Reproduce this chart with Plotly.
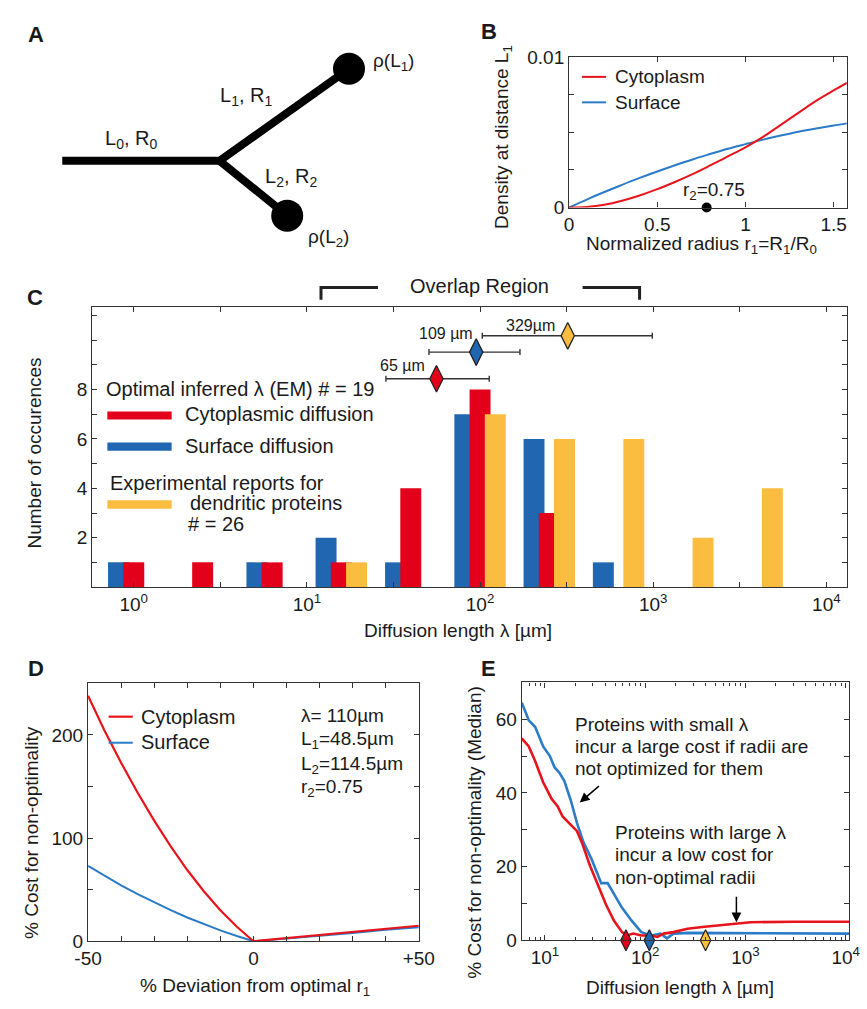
import plotly.graph_objects as go
import numpy as np

W, H = 867, 1009
def px(x): return x / W
def py(y): return 1 - y / H

FONT = "Liberation Sans, Arial, sans-serif"
TXT = "#1a1a1a"
AX = "#333333"
RED_LINE = "#e8141c"
BLUE_LINE = "#2b7bc8"
RED_BAR = "#e3001b"
BLUE_BAR = "#2066b0"
YEL_BAR = "#fbbd40"

# ---------------- Panel B data ----------------
b_r = [0, 0.1, 0.2, 0.3, 0.4, 0.5, 0.6, 0.7, 0.8, 0.9, 1.0, 1.1, 1.2, 1.3, 1.4, 1.5, 1.575]
b_cyto = [0, 0.00003, 0.00018, 0.00045, 0.0008, 0.00122, 0.0017, 0.00222, 0.0028, 0.0034,
          0.0040, 0.0047, 0.0055, 0.0063, 0.0071, 0.0078, 0.0083]
b_surf = [0, 0.00053, 0.00103, 0.00151, 0.00197, 0.0024, 0.00281, 0.0032, 0.00356, 0.00391,
          0.00422, 0.00452, 0.00479, 0.00504, 0.00526, 0.00546, 0.0056]
b_r2 = 0.78

# ---------------- Panel C data ----------------
c_bins_um = [1.0, 2.5, 6.3, 15.8, 39.8, 100, 251, 631, 1585, 3981]
c_cyto = [1, 1, 1, 1, 4, 8, 3, 0, 0, 0]
c_surf = [1, 0, 1, 2, 1, 7, 6, 1, 0, 0]
c_exp = [0, 0, 0, 1, 0, 7, 6, 6, 2, 4]
c_mark_um = [56, 95, 321]
c_mark_lo = [28.6, 50.7, 103]
c_mark_hi = [113, 170, 988]
c_mark_y = [8.44, 9.52, 10.18]
c_mark_labels = ["65 µm", "109 µm", "329µm"]

# ---------------- Panel D data ----------------
d_dev = [-50, -45, -40, -35, -30, -25, -20, -15, -10, -5, 0, 10, 20, 30, 40, 50]
d_cyto = [238, 204, 173, 144, 117, 92, 69, 48.5, 30, 14, 0, 3, 6, 9, 12, 15]
d_surf = [73, 63.3, 54.2, 45.7, 37.6, 30.1, 23, 16.5, 10.5, 5, 0, 2.5, 5, 8, 11, 13.5]

# ---------------- Panel E data ----------------
e_lam_surf = [5.88, 6.9, 8.0, 9.6, 11.2, 12.5, 13.9, 15.6, 18.1, 20.9, 24.3, 29.1, 33.8, 36.4,
              42.2, 47.1, 58.8, 73.3, 91.5, 114, 142.6, 165, 191, 276, 500, 1000, 3000, 10800]
e_surf = [64.5, 59.7, 57.9, 52.6, 50, 46.9, 45.5, 43.3, 38, 31.8, 26.5, 22.1, 17.7, 15.5,
          15.5, 13.3, 8.8, 5.3, 2.2, 1.3, 1.8, 0.5, 1.8, 2.0, 2.0, 1.9, 1.8, 1.8]
e_lam_cyto = [5.88, 6.9, 8.0, 9.6, 11.6, 13.4, 15.0, 18.1, 20.9, 23.4, 28.1, 33.8, 40.6, 48.9,
              58.8, 65.6, 76.1, 91.5, 114, 132.6, 153, 191, 264, 371, 778, 1125, 3000, 10800]
e_cyto = [54.8, 52.6, 48.6, 42.9, 38.5, 36.3, 33.6, 31.4, 29.6, 26.5, 20.3, 15, 9.7, 5.3,
          2.2, 1.3, 1.8, 1.3, 1.3, 0.9, 1.8, 2.2, 3.1, 3.6, 4.6, 4.9, 5.0, 5.0]
e_mark_um = [64.3, 110, 400]

fig = go.Figure()

# ---------------- Panel A (schematic) ----------------
fig.add_trace(go.Scatter(x=[50, 213, 347], y=[154, 154, 60], mode="lines",
                         line=dict(color="black", width=8), xaxis="x", yaxis="y",
                         showlegend=False, hoverinfo="skip"))
fig.add_trace(go.Scatter(x=[213, 283], y=[154, 210], mode="lines",
                         line=dict(color="black", width=8), xaxis="x", yaxis="y",
                         showlegend=False, hoverinfo="skip"))
fig.add_trace(go.Scatter(x=[347, 283], y=[60, 210], mode="markers",
                         marker=dict(color="black", size=32), xaxis="x", yaxis="y",
                         showlegend=False, hoverinfo="skip"))

# ---------------- Panel B ----------------
fig.add_trace(go.Scatter(x=b_r, y=b_surf, mode="lines", line=dict(color=BLUE_LINE, width=2, shape="spline"),
                         xaxis="x2", yaxis="y2", showlegend=False))
fig.add_trace(go.Scatter(x=b_r, y=b_cyto, mode="lines", line=dict(color=RED_LINE, width=2, shape="spline"),
                         xaxis="x2", yaxis="y2", showlegend=False))
fig.add_trace(go.Scatter(x=[b_r2], y=[0], mode="markers", marker=dict(color="black", size=10),
                         cliponaxis=False, xaxis="x2", yaxis="y2", showlegend=False))

# ---------------- Panel C ----------------
logc = np.log10(c_bins_um)
BW = 0.121
OFF = 0.088
for vals, off, col in [(c_surf, -OFF, BLUE_BAR), (c_cyto, 0.0, RED_BAR), (c_exp, OFF, YEL_BAR)]:
    xs = [l + off for l, v in zip(logc, vals) if v > 0]
    ys = [v for v in vals if v > 0]
    fig.add_trace(go.Bar(x=xs, y=ys, width=BW, marker=dict(color=col, line=dict(width=0)),
                         xaxis="x3", yaxis="y3", showlegend=False))
lm = np.log10(c_mark_um)
fig.add_trace(go.Scatter(
    x=lm, y=c_mark_y, mode="markers",
    marker=dict(symbol="diamond-tall", size=19, color=[RED_BAR, BLUE_BAR, YEL_BAR],
                line=dict(color="#222", width=1.3)),
    error_x=dict(type="data", symmetric=False,
                 array=list(np.log10(c_mark_hi) - lm),
                 arrayminus=list(lm - np.log10(c_mark_lo)),
                 color="#333", thickness=1.4, width=3),
    cliponaxis=False, xaxis="x3", yaxis="y3", showlegend=False))

# ---------------- Panel D ----------------
fig.add_trace(go.Scatter(x=d_dev, y=d_surf, mode="lines", line=dict(color=BLUE_LINE, width=2),
                         xaxis="x4", yaxis="y4", showlegend=False))
fig.add_trace(go.Scatter(x=d_dev, y=d_cyto, mode="lines", line=dict(color=RED_LINE, width=2.2),
                         xaxis="x4", yaxis="y4", showlegend=False))

# ---------------- Panel E ----------------
fig.add_trace(go.Scatter(x=e_lam_surf, y=e_surf, mode="lines", line=dict(color=BLUE_LINE, width=2.6),
                         xaxis="x5", yaxis="y5", showlegend=False))
fig.add_trace(go.Scatter(x=e_lam_cyto, y=e_cyto, mode="lines", line=dict(color=RED_LINE, width=2.6),
                         xaxis="x5", yaxis="y5", showlegend=False))
fig.add_trace(go.Scatter(x=e_mark_um, y=[0, 0, 0], mode="markers",
                         marker=dict(symbol="diamond-tall", size=15, color=[RED_BAR, BLUE_BAR, YEL_BAR],
                                     line=dict(color="#222", width=1.2)),
                         cliponaxis=False, xaxis="x5", yaxis="y5", showlegend=False))

def axstyle(**kw):
    d = dict(showline=True, mirror="ticks", linecolor=AX, linewidth=1.2, ticks="inside",
             ticklen=5, tickcolor=AX, tickwidth=1, showgrid=False, zeroline=False,
             tickfont=dict(family=FONT, size=19, color=TXT), fixedrange=True)
    d.update(kw)
    return d

layout = dict(
    width=W, height=H, margin=dict(l=0, r=0, t=0, b=0),
    paper_bgcolor="white", plot_bgcolor="white", barmode="overlay",
    font=dict(family=FONT, color=TXT),
    xaxis=dict(domain=[0, px(440)], range=[0, 440], visible=False, fixedrange=True),
    yaxis=dict(domain=[py(260), 1], range=[260, 0], visible=False, fixedrange=True),
    xaxis2=axstyle(domain=[px(575), px(862.7)], range=[0, 1.575], anchor="y2",
                   tickvals=[0, 0.5, 1, 1.5], ticktext=["0", "0.5", "1", "1.5"]),
    yaxis2=axstyle(domain=[py(201.7), py(48.3)], range=[0, 0.01], anchor="x2",
                   tickvals=[0, 0.0025, 0.005, 0.0075, 0.01], ticktext=["0", "", "", "", "0.01"]),
    xaxis3=axstyle(domain=[px(81), px(863)], range=[-0.24, 4.12], anchor="y3",
                   tickvals=[0, 0.5, 1, 1.5, 2, 2.5, 3, 3.5, 4],
                   ticktext=["10<sup>0</sup>", "", "10<sup>1</sup>", "", "10<sup>2</sup>", "",
                             "10<sup>3</sup>", "", "10<sup>4</sup>"]),
    yaxis3=axstyle(domain=[py(589.3), py(303)], range=[0, 11.36], anchor="x3",
                   tickvals=list(range(1, 12)),
                   ticktext=["", "2", "", "4", "", "6", "", "8", "", "", ""]),
    xaxis4=axstyle(domain=[px(76.7), px(419.3)], range=[-50, 50], anchor="y4",
                   tickvals=list(range(-50, 51, 10)),
                   ticktext=["-50", "", "", "", "", "0", "", "", "", "", "+50"]),
    yaxis4=axstyle(domain=[py(951), py(687.7)], range=[0, 250], anchor="x4",
                   tickvals=[0, 50, 100, 150, 200, 250], ticktext=["0", "", "100", "", "200", ""]),
    xaxis5=axstyle(domain=[px(526), px(865)], type="log", range=[np.log10(5.88), np.log10(10800)],
                   anchor="y5", tickvals=[10, 100, 1000, 10000],
                   ticktext=["10<sup>1</sup>", "10<sup>2</sup>", "10<sup>3</sup>", "10<sup>4</sup>"],
                   minor=dict(tickvals=[6, 7, 8, 9, 20, 30, 40, 50, 60, 70, 80, 90,
                                        200, 300, 400, 500, 600, 700, 800, 900,
                                        2000, 3000, 4000, 5000, 6000, 7000, 8000, 9000],
                              ticks="inside", ticklen=3, tickcolor=AX)),
    yaxis5=axstyle(domain=[py(950), py(686.7)], range=[0, 70], anchor="x5",
                   tickvals=[0, 10, 20, 30, 40, 50, 60, 70],
                   ticktext=["0", "", "20", "", "40", "", "60", ""]),
)

ann = []
def T(x, y, text, size=20, xanchor="center", yanchor="middle", angle=0, bold=False):
    ann.append(dict(x=px(x), y=py(y), xref="paper", yref="paper", text=("<b>%s</b>" % text) if bold else text,
                    showarrow=False, xanchor=xanchor, yanchor=yanchor, textangle=angle,
                    font=dict(family=FONT, size=size, color=TXT)))

# panel letters
T(23, 25, "A", 22, bold=True)
T(492, 22, "B", 22, bold=True)
T(22, 294, "C", 22, bold=True)
T(23, 672, "D", 22, bold=True)
T(492, 673, "E", 22, bold=True)

# panel A labels
T(121, 132, "L<sub>0</sub>, R<sub>0</sub>", 20)
T(240, 88, "L<sub>1</sub>, R<sub>1</sub>", 20)
T(287, 171, "L<sub>2</sub>, R<sub>2</sub>", 20)
T(370, 53, "ρ(L<sub>1</sub>)", 19, xanchor="left")
T(302, 233, "ρ(L<sub>2</sub>)", 19, xanchor="left")

# panel B
T(506.7, 129.5, "Density at distance L<sub>1</sub>", 19, angle=-90)
T(711.7, 240, "Normalized radius r<sub>1</sub>=R<sub>1</sub>/R<sub>0</sub>", 19)
T(620, 68, "Cytoplasm", 19, xanchor="left")
T(620, 94, "Surface", 19, xanchor="left")
T(725, 185, "r<sub>2</sub>=0.75", 19)

# panel C
T(21.7, 452, "Number of occurences", 19, angle=-90)
T(460, 634, "Diffusion length λ [µm]", 19)
T(482, 282, "Overlap Region", 20)
T(93, 386.7, "Optimal inferred λ (EM) # = 19", 20, xanchor="left")
T(175, 412.7, "Cytoplasmic diffusion", 20, xanchor="left")
T(175, 445, "Surface diffusion", 20, xanchor="left")
T(97, 483.3, "Experimental reports for", 20, xanchor="left")
T(180.7, 503.3, "dendritic proteins", 20, xanchor="left")
T(178.3, 525, "# = 26", 20, xanchor="left")
T(402, 363, c_mark_labels[0], 16)
T(447, 330.7, c_mark_labels[1], 16)
T(535, 321.7, c_mark_labels[2], 16)

# panel D
T(18, 840, "% Cost for non-optimality", 19, angle=-90)
T(250, 998, "% Deviation from optimal r<sub>1</sub>", 19)
T(129, 721.7, "Cytoplasm", 20, xanchor="left")
T(129, 748, "Surface", 20, xanchor="left")
T(295, 720, "λ= 110µm", 19, xanchor="left")
T(295, 746, "L<sub>1</sub>=48.5µm", 19, xanchor="left")
T(295, 770.7, "L<sub>2</sub>=114.5µm", 19, xanchor="left")
T(295, 795, "r<sub>2</sub>=0.75", 19, xanchor="left")

# panel E
T(476.7, 840, "% Cost for non-optimality (Median)", 19, angle=-90)
T(690, 998, "Diffusion length λ [µm]", 19)
T(579, 729.3, "Proteins with small λ", 19, xanchor="left")
T(579, 751.7, "incur a large cost if radii are", 19, xanchor="left")
T(579, 775, "not optimized for them", 19, xanchor="left")
T(620.7, 840, "Proteins with large λ", 19, xanchor="left")
T(620.7, 862.7, "incur a low cost for", 19, xanchor="left")
T(620.7, 886, "non-optimal radii", 19, xanchor="left")

# arrows in E
ann.append(dict(x=px(586), y=py(809.3), xref="paper", yref="paper", ax=20.7, ay=-17.6,
                showarrow=True, arrowhead=2, arrowsize=1.3, arrowwidth=1.5, arrowcolor="black", text=""))
ann.append(dict(x=px(748.3), y=py(931.7), xref="paper", yref="paper", ax=0, ay=-27,
                showarrow=True, arrowhead=2, arrowsize=1.3, arrowwidth=1.5, arrowcolor="black", text=""))

shapes = []
def L(x0, y0, x1, y1, color, width):
    shapes.append(dict(type="line", xref="paper", yref="paper", x0=px(x0), y0=py(y0), x1=px(x1), y1=py(y1),
                       line=dict(color=color, width=width)))
def R(x0, y0, x1, y1, color):
    shapes.append(dict(type="rect", xref="paper", yref="paper", x0=px(x0), y0=py(y0), x1=px(x1), y1=py(y1),
                       line=dict(width=0), fillcolor=color))

# B legend lines
L(588.3, 68.3, 613.3, 68.3, RED_LINE, 2)
L(588.3, 94.3, 613.3, 94.3, BLUE_LINE, 2)
# C legend swatches
R(96.7, 410, 163.3, 418.3, RED_BAR)
R(96.7, 441.7, 163.3, 450, BLUE_BAR)
R(96.7, 500.7, 163.3, 509.3, YEL_BAR)
# Overlap region bracket
shapes.append(dict(type="path", xref="paper", yref="paper",
                   path="M %f,%f L %f,%f L %f,%f" % (px(318), py(296), px(318), py(283.3), px(377), py(283.3)),
                   line=dict(color="#222", width=3)))
shapes.append(dict(type="path", xref="paper", yref="paper",
                   path="M %f,%f L %f,%f L %f,%f" % (px(589), py(283.3), px(648), py(283.3), px(648), py(296)),
                   line=dict(color="#222", width=3)))
# D legend lines
L(98, 721.7, 123, 721.7, RED_LINE, 2.2)
L(98, 748.3, 123, 748.3, BLUE_LINE, 2)

layout["annotations"] = ann
layout["shapes"] = shapes
fig.update_layout(**layout)
fig.write_html("out.html")
